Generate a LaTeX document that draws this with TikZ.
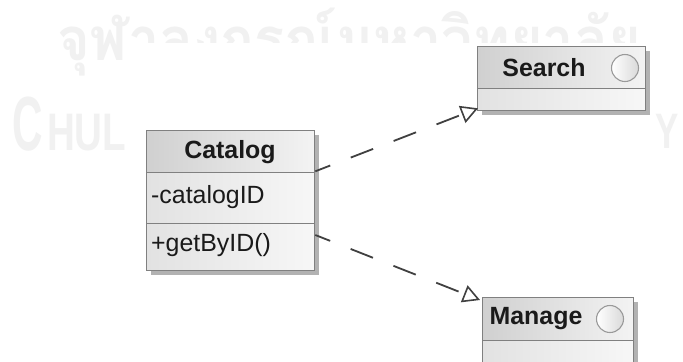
\documentclass[tikz,border=0pt]{standalone}
\usepackage{fontspec}
\setmainfont{Liberation Sans}
\newfontfamily\thaifont[Script=Thai]{Loma}
\usetikzlibrary{arrows.meta,calc}
\definecolor{wm}{HTML}{F1F1F1}
\definecolor{bordc}{HTML}{808080}
\definecolor{shadc}{HTML}{B2B2B2}
\definecolor{hdrL}{HTML}{D0D0D0}
\definecolor{hdrR}{HTML}{F3F3F3}
\definecolor{rowL}{HTML}{E2E2E2}
\definecolor{rowR}{HTML}{F7F7F7}
\definecolor{txtc}{HTML}{1A1A1A}
\definecolor{linec}{HTML}{404040}
\definecolor{circc}{HTML}{9A9A9A}
\begin{document}
\begin{tikzpicture}[x=1bp,y=-1bp,
  hdr/.style={draw=bordc, line width=1.3bp, left color=hdrL, right color=hdrR, anchor=north west, inner sep=0, rectangle},
  rowbox/.style={draw=bordc, line width=1.3bp, left color=rowL, right color=rowR, anchor=north west, inner sep=0, rectangle},
  shad/.style={fill=shadc, draw=none},
  clsname/.style={text=txtc, font=\bfseries\fontsize{25}{25}\selectfont, inner sep=0},
  member/.style={text=txtc, font=\fontsize{25}{25}\selectfont, inner sep=0, anchor=west},
  icon/.style={circle, draw=circc, line width=1.1bp, left color=white, right color=hdrL!80, minimum size=27bp, inner sep=0},
  dep/.style={draw=linec, line width=1.8bp, dash pattern=on 24bp off 22bp, dash phase=8bp,
    -{Triangle[open, length=17bp, width=18bp, line width=1.6bp]}},
  wmtext/.style={text=wm, inner sep=0, anchor=base west}
]
\useasboundingbox (0,0) rectangle (683,361);
\clip (0,0) rectangle (683,361);
\fill[white] (0,0) rectangle (683,361);
% watermark
\node[wmtext, font=\thaifont\bfseries\fontsize{60}{60}\selectfont, xscale=0.935] (wmthai) at (57,60) {จุฬาลงกรณ์มหาวิทยาลัย};
\node[wmtext, font=\bfseries\fontsize{77}{77}\selectfont, xscale=0.55] (wmc) at (12,150) {C};
\node[wmtext, font=\bfseries\fontsize{53}{53}\selectfont, xscale=0.73] (wmhul) at (47,150) {HUL};
\node[wmtext, font=\bfseries\fontsize{50}{50}\selectfont, xscale=0.7] (wmy) at (655,148) {Y};
\fill[white] (130,43) rectangle (655,361);
% Catalog
\fill[shad] (151,135) rectangle (319,275);
\node[hdr, minimum width=168bp, minimum height=42bp] (cathead) at (146,130) {};
\node[rowbox, minimum width=168bp, minimum height=51bp] (catrow1) at (146,172) {};
\node[rowbox, minimum width=168bp, minimum height=47bp] (catrow2) at (146,223) {};
\node[clsname] (catname) at (230,152) {Catalog};
\node[member] (catattr) at (151,197) {-catalogID};
\node[member] (catop) at (151,245) {+getByID()};
% Search
\fill[shad] (482,51) rectangle (650,115);
\node[hdr, minimum width=168bp, minimum height=42bp] (searchhead) at (477,46) {};
\node[rowbox, minimum width=168bp, minimum height=22bp] (searchbody) at (477,88) {};
\node[clsname] (searchname) at (544,68) {Search};
\node[icon] (searchicon) at (625,68) {};
% Manage
\fill[shad] (487,302) rectangle (638,380);
\node[hdr, minimum width=151bp, minimum height=43bp] (manhead) at (482,297) {};
\node[rowbox, minimum width=151bp, minimum height=35bp] (manbody) at (482,340) {};
\node[clsname] (manname) at (536,319) {Manage};
\node[icon] (manicon) at (610,319) {};
% dependencies
\coordinate (s1) at ($(cathead.south east)+(0,-2)$);
\coordinate (t1) at ($(searchbody.south west)+(1,-3)$);
\coordinate (s2) at ($(catrow2.north east)+(0,12)$);
\coordinate (t2) at ($(manhead.north west)+(-2,3)$);
\draw[dep] (s1) -- (t1);
\draw[dep] (s2) -- (t2);
\end{tikzpicture}
\end{document}
